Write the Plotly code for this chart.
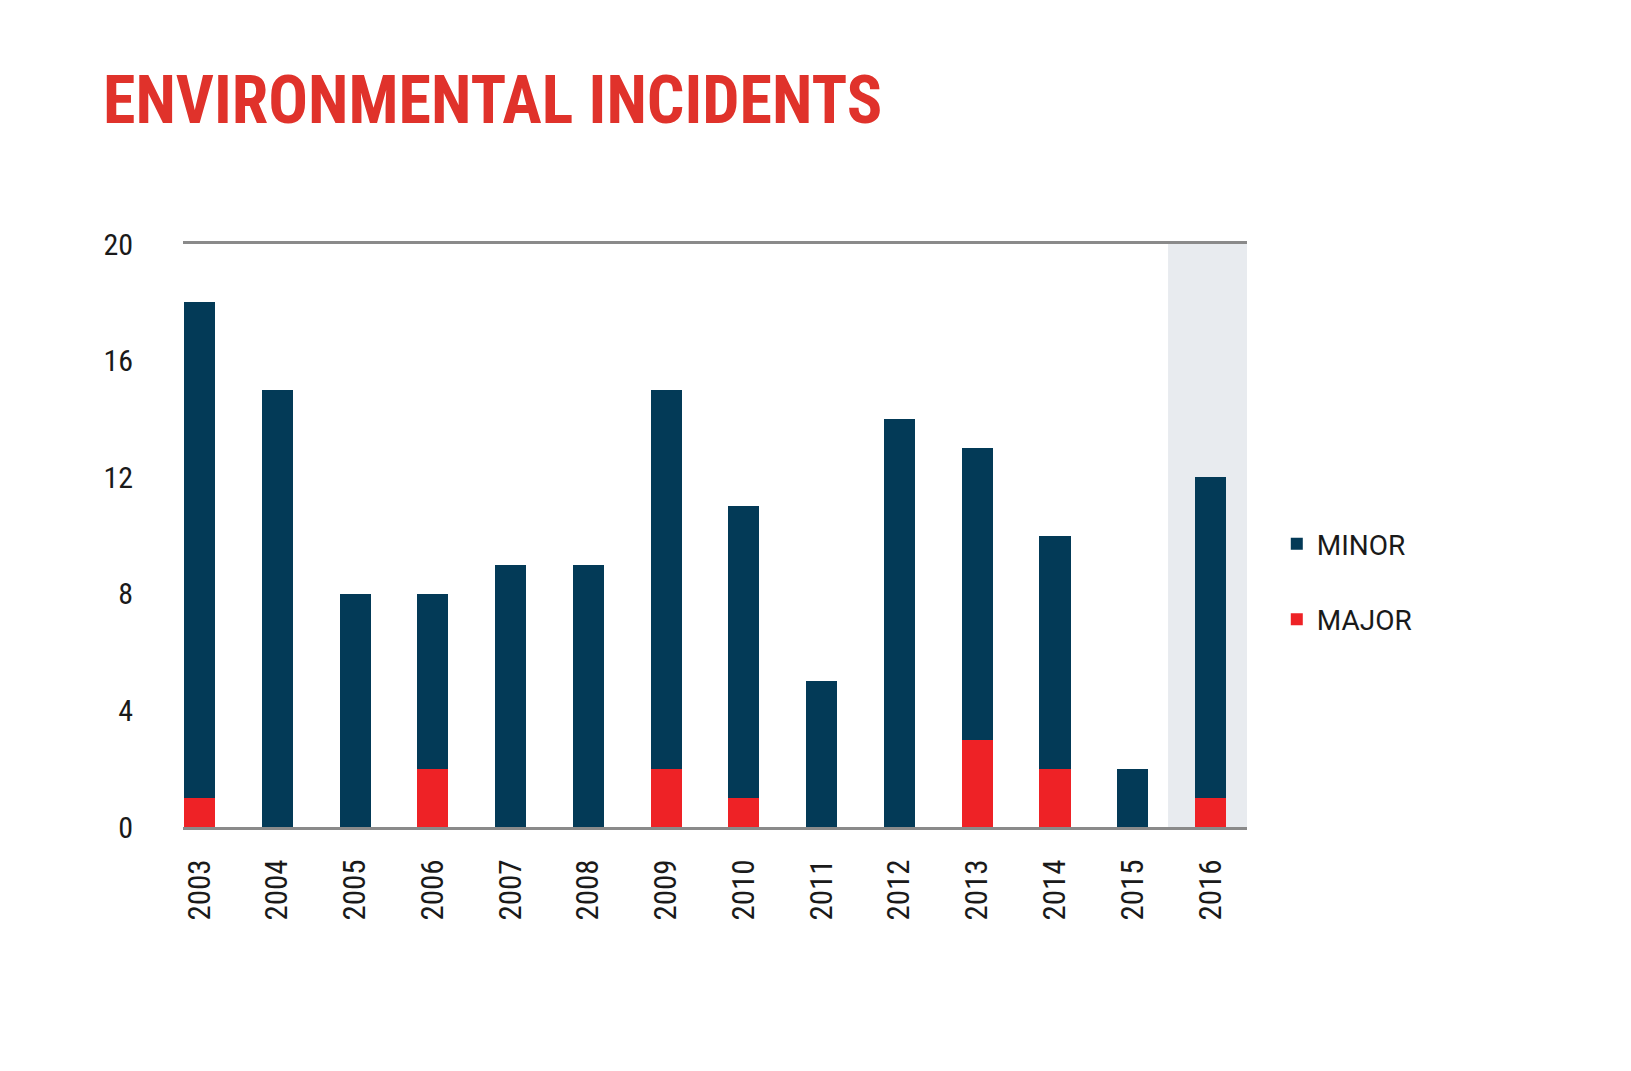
import plotly.graph_objects as go

# Environmental incidents per year
years = ["2003", "2004", "2005", "2006", "2007", "2008", "2009",
         "2010", "2011", "2012", "2013", "2014", "2015", "2016"]
major = [1, 0, 0, 2, 0, 0, 2, 1, 0, 0, 3, 2, 0, 1]
minor = [17, 15, 8, 6, 9, 9, 13, 10, 5, 14, 10, 8, 2, 11]
y_ticks = [0, 4, 8, 12, 16, 20]
highlight_year = "2016"

NAVY = "#033a57"
RED = "#ee2226"
GREY = "#8a8a8a"
SHADE = "#e8ebef"
TITLE_RED = "#e0322b"
NARROW = "Liberation Sans Narrow, Roboto Condensed, Arial Narrow, Roboto, sans-serif"

fig = go.Figure()
fig.add_trace(go.Bar(x=years, y=major, name="MAJOR", legendgroup="major", legendrank=2,
                     marker=dict(color=RED, line=dict(width=0)), width=0.4))
fig.add_trace(go.Bar(x=years, y=minor, name="MINOR", legendgroup="minor", legendrank=1,
                     marker=dict(color=NAVY, line=dict(width=0)), width=0.4))

# grey band behind the latest year
idx = years.index(highlight_year)
fig.add_shape(type="rect", xref="x", yref="y", x0=idx - 0.545, x1=idx + 0.47,
              y0=0, y1=20, fillcolor=SHADE, line=dict(width=0), layer="below")

fig.update_layout(
    width=1631, height=1071,
    margin=dict(l=175, r=392, t=236, b=252),
    paper_bgcolor="white", plot_bgcolor="white",
    barmode="stack", bargap=0,
    title=dict(text="<b>ENVIRONMENTAL INCIDENTS</b>", x=95 / 1631, xanchor="left",
               xref="container", y=0.914, yanchor="middle", yref="container",
               font=dict(family=NARROW, size=66, color=TITLE_RED)),
    legend=dict(x=1.028, xanchor="left", y=0.421, yanchor="middle",
                traceorder="grouped", tracegroupgap=36,
                font=dict(family="Roboto, sans-serif", size=28, color="#1a1a1a"),
                bgcolor="rgba(0,0,0,0)"),
    xaxis=dict(type="category", range=[-0.214, 13.47], showgrid=False,
               showline=True, mirror=True, linecolor=GREY, linewidth=3,
               ticks="", tickangle=-90, ticklabelstandoff=17,
               tickfont=dict(family=NARROW, size=31, color="#1a1a1a")),
    yaxis=dict(range=[0, 20], tickvals=y_ticks, showgrid=False, zeroline=False,
               showline=False, ticks="", ticklabelstandoff=49,
               tickfont=dict(family=NARROW, size=30, color="#1a1a1a")),
)

fig.write_html("out.html")
